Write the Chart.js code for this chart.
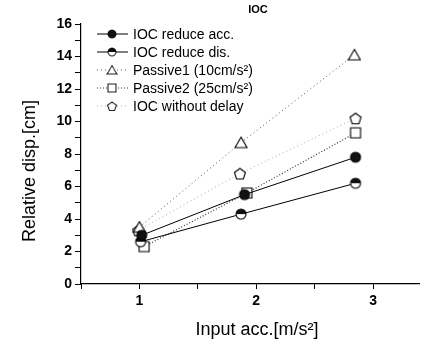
<!DOCTYPE html>
<html>
<head>
<meta charset="utf-8">
<script src="https://cdn.jsdelivr.net/npm/chart.js@4.4.0/dist/chart.umd.min.js"></script>
<style>
    html, body { margin: 0; background: #fff; }
    #wrap { width: 428px; height: 349px; position: relative; }
</style>
</head>
<body>
<div id="wrap"><canvas id="chart"></canvas></div>
<script>
// series names and values
const seriesNames = ['IOC reduce acc.', 'IOC reduce dis.', 'Passive1 (10cm/s\u00B2)', 'Passive2 (25cm/s\u00B2)', 'IOC without delay'];

const reduceAccX = [1.02, 1.90, 2.85];
const reduceAccY = [3.0, 5.5, 7.8];
const reduceDisX = [1.01, 1.87, 2.85];
const reduceDisY = [2.6, 4.3, 6.2];
const passive1X = [1.00, 1.87, 2.84];
const passive1Y = [3.5, 8.7, 14.1];
const passive2X = [1.04, 1.92, 2.85];
const passive2Y = [2.3, 5.6, 9.3];
const noDelayX = [0.99, 1.86, 2.85];
const noDelayY = [3.3, 6.8, 10.2];

const yTicks = [0, 2, 4, 6, 8, 10, 12, 14, 16];
const xTicks = [1, 2, 3];

const FONT = '"Liberation Sans", Arial, sans-serif';

function toPoints(xs, ys) {
    return xs.map((x, i) => ({ x: x, y: ys[i] }));
}

// small canvases used as point markers
function makeMarker(kind) {
    const size = 14;
    const c = document.createElement('canvas');
    c.width = size;
    c.height = size;
    const ctx = c.getContext('2d');
    const m = size / 2;
    ctx.lineWidth = 1.1;
    ctx.strokeStyle = '#000';
    ctx.fillStyle = '#fff';
    if (kind === 'filled') {
        ctx.beginPath();
        ctx.arc(m, m, 5, 0, Math.PI * 2);
        ctx.fillStyle = '#111';
        ctx.fill();
        ctx.stroke();
    } else if (kind === 'half') {
        ctx.beginPath();
        ctx.arc(m, m, 5, 0, Math.PI * 2);
        ctx.fill();
        ctx.beginPath();
        ctx.arc(m, m, 5, Math.PI, Math.PI * 2);
        ctx.closePath();
        ctx.fillStyle = '#111';
        ctx.fill();
        ctx.beginPath();
        ctx.arc(m, m, 5, 0, Math.PI * 2);
        ctx.stroke();
    } else if (kind === 'triangle') {
        ctx.beginPath();
        ctx.moveTo(m, 1.5);
        ctx.lineTo(m + 6, 12);
        ctx.lineTo(m - 6, 12);
        ctx.closePath();
        ctx.fill();
        ctx.stroke();
    } else if (kind === 'square') {
        ctx.beginPath();
        ctx.rect(2, 2, 10, 10);
        ctx.fill();
        ctx.stroke();
    } else if (kind === 'pentagon') {
        ctx.beginPath();
        for (let k = 0; k < 5; k++) {
            const a = -Math.PI / 2 + k * 2 * Math.PI / 5;
            const px = m + 5.8 * Math.cos(a);
            const py = m + 0.8 + 5.8 * Math.sin(a);
            if (k === 0) ctx.moveTo(px, py); else ctx.lineTo(px, py);
        }
        ctx.closePath();
        ctx.fill();
        ctx.stroke();
    }
    return c;
}

const markers = {
    filled: makeMarker('filled'),
    half: makeMarker('half'),
    triangle: makeMarker('triangle'),
    square: makeMarker('square'),
    pentagon: makeMarker('pentagon')
};

function series(label, xs, ys, marker, color, dash, width) {
    return {
        label: label,
        data: toPoints(xs, ys),
        borderColor: color,
        borderWidth: width,
        borderDash: dash,
        pointStyle: markers[marker],
        pointRadius: 7,
        showLine: true,
        tension: 0
    };
}

// legend drawn inside the plot, top-left
const insideLegend = {
    id: 'insideLegend',
    afterDraw(chart) {
        const ctx = chart.ctx;
        ctx.save();
        chart.data.datasets.forEach((ds, i) => {
            const y = 34 + i * 18;
            ctx.beginPath();
            ctx.strokeStyle = ds.borderColor;
            ctx.lineWidth = ds.borderWidth;
            ctx.setLineDash(ds.borderDash);
            ctx.moveTo(97, y);
            ctx.lineTo(128, y);
            ctx.stroke();
            ctx.setLineDash([]);
            ctx.save();
            ctx.translate(112, y);
            ctx.scale(0.8, 0.8);
            ctx.drawImage(ds.pointStyle, -7, -7);
            ctx.restore();
            ctx.fillStyle = '#000';
            ctx.font = '14px ' + FONT;
            ctx.textBaseline = 'middle';
            ctx.textAlign = 'left';
            ctx.fillText(ds.label, 133, y + 1);
        });
        ctx.restore();
    }
};

// chart title and axis titles
const titles = {
    id: 'titles',
    afterDraw(chart) {
        const ctx = chart.ctx;
        ctx.save();
        ctx.fillStyle = '#000';
        ctx.textAlign = 'center';
        ctx.textBaseline = 'middle';
        ctx.font = 'bold 11px ' + FONT;
        ctx.fillText('IOC', 258, 10);
        ctx.font = '18px ' + FONT;
        ctx.fillText('Input acc.[m/s\u00B2]', 257, 330);
        ctx.translate(30, 171);
        ctx.rotate(-Math.PI / 2);
        ctx.fillText('Relative disp.[cm]', 0, 0);
        ctx.restore();
    }
};

new Chart(document.getElementById('chart'), {
    type: 'scatter',
    data: {
        datasets: [
            series(seriesNames[0], reduceAccX, reduceAccY, 'filled', '#000', [], 1),
            series(seriesNames[1], reduceDisX, reduceDisY, 'half', '#000', [], 1),
            series(seriesNames[2], passive1X, passive1Y, 'triangle', '#555', [1, 3], 1),
            series(seriesNames[3], passive2X, passive2Y, 'square', '#333', [1, 2], 1.2),
            series(seriesNames[4], noDelayX, noDelayY, 'pentagon', '#aaa', [1, 3], 1)
        ]
    },
    options: {
        responsive: true,
        maintainAspectRatio: false,
        animation: false,
        layout: {
            padding: { top: 24, right: -5, left: 0, bottom: 0 }
        },
        plugins: {
            legend: { display: false },
            tooltip: { enabled: false }
        },
        scales: {
            x: {
                type: 'linear',
                min: 0.5,
                max: 3.4,
                afterFit(scale) { scale.height = 65; },
                ticks: {
                    stepSize: 0.5,
                    includeBounds: false,
                    autoSkip: false,
                    maxRotation: 0,
                    padding: 4,
                    color: '#000',
                    font: { family: FONT, size: 14, weight: 'bold' },
                    callback: v => xTicks.includes(v) ? String(v) : ''
                },
                grid: {
                    drawOnChartArea: false,
                    drawTicks: true,
                    tickLength: 5,
                    color: '#000'
                },
                border: { display: true, color: '#000', width: 1.2 }
            },
            y: {
                min: 0,
                max: 16,
                afterFit(scale) { scale.width = 81; },
                ticks: {
                    stepSize: 1,
                    autoSkip: false,
                    padding: 3,
                    color: '#000',
                    font: { family: FONT, size: 14, weight: 'bold' },
                    callback: v => yTicks.includes(v) ? String(v) : ''
                },
                grid: {
                    drawOnChartArea: false,
                    drawTicks: true,
                    tickLength: 6,
                    color: '#000'
                },
                border: { display: true, color: '#000', width: 1.2 }
            }
        }
    },
    plugins: [insideLegend, titles]
});
</script>
</body>
</html>
